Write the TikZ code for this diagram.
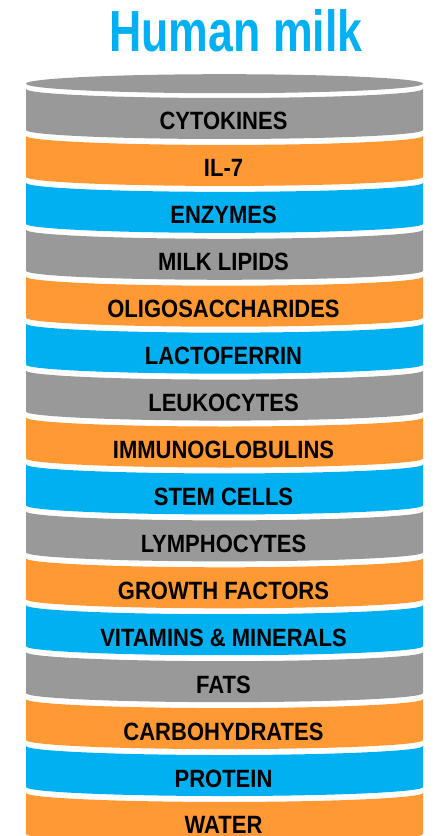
\documentclass[tikz,border=0pt]{standalone}
\usepackage{fontspec}
\setmainfont{Liberation Sans}
\newfontfamily\lblfont[FakeStretch=0.88]{Liberation Sans}
\newfontfamily\titlefont[FakeStretch=0.77]{Liberation Sans}
\definecolor{mgray}{RGB}{153,153,153}
\definecolor{morange}{RGB}{255,153,51}
\definecolor{mblue}{RGB}{0,176,240}
\begin{document}
\begin{tikzpicture}[x=1pt,y=1pt,
  lbl/.style={font=\lblfont\bfseries\fontsize{25}{25}\selectfont, text=black, anchor=base, inner sep=0pt},
  ttl/.style={font=\titlefont\bfseries\fontsize{58}{58}\selectfont, text=mblue, anchor=base, inner sep=0pt}]
\useasboundingbox (0,0) rectangle (436,836);
\clip (0,0) rectangle (436,836);
\fill[white] (0,0) rectangle (436,836);
% top ellipse
\fill[mgray] (224.5,752.3) ellipse [x radius=198.5pt, y radius=9.5pt];
% bands
\foreach \c [count=\k from 0] in {mgray,morange,mblue,mgray,morange,mblue,mgray,morange,mblue,mgray,morange,mblue,mgray,morange,mblue,morange} {
  \pgfmathsetmacro\yt{836-89-46.93*\k}
  \pgfmathsetmacro\yb{\yt-41}
  \fill[\c] (26,\yt) arc[start angle=180,end angle=360,x radius=198.5pt,y radius=9pt]
    -- (423,\yb) arc[start angle=0,end angle=-180,x radius=198.5pt,y radius=9pt] -- cycle;
}
% title
\node[ttl] (title) at (236,784) {Human milk};
% labels
\node[lbl] (l0)  at (223.5,{836-130-46.93*0})  {CYTOKINES};
\node[lbl] (l1)  at (223.5,{836-130-46.93*1})  {IL-7};
\node[lbl] (l2)  at (223.5,{836-130-46.93*2})  {ENZYMES};
\node[lbl] (l3)  at (223.5,{836-130-46.93*3})  {MILK LIPIDS};
\node[lbl] (l4)  at (223.5,{836-130-46.93*4})  {OLIGOSACCHARIDES};
\node[lbl] (l5)  at (223.5,{836-130-46.93*5})  {LACTOFERRIN};
\node[lbl] (l6)  at (223.5,{836-130-46.93*6})  {LEUKOCYTES};
\node[lbl] (l7)  at (223.5,{836-130-46.93*7})  {IMMUNOGLOBULINS};
\node[lbl] (l8)  at (223.5,{836-130-46.93*8})  {STEM CELLS};
\node[lbl] (l9)  at (223.5,{836-130-46.93*9})  {LYMPHOCYTES};
\node[lbl] (l10) at (223.5,{836-130-46.93*10}) {GROWTH FACTORS};
\node[lbl] (l11) at (223.5,{836-130-46.93*11}) {VITAMINS \& MINERALS};
\node[lbl] (l12) at (223.5,{836-130-46.93*12}) {FATS};
\node[lbl] (l13) at (223.5,{836-130-46.93*13}) {CARBOHYDRATES};
\node[lbl] (l14) at (223.5,{836-130-46.93*14}) {PROTEIN};
\node[lbl] (l15) at (223.5,{836-130-46.93*15}) {WATER};
\end{tikzpicture}
\end{document}
